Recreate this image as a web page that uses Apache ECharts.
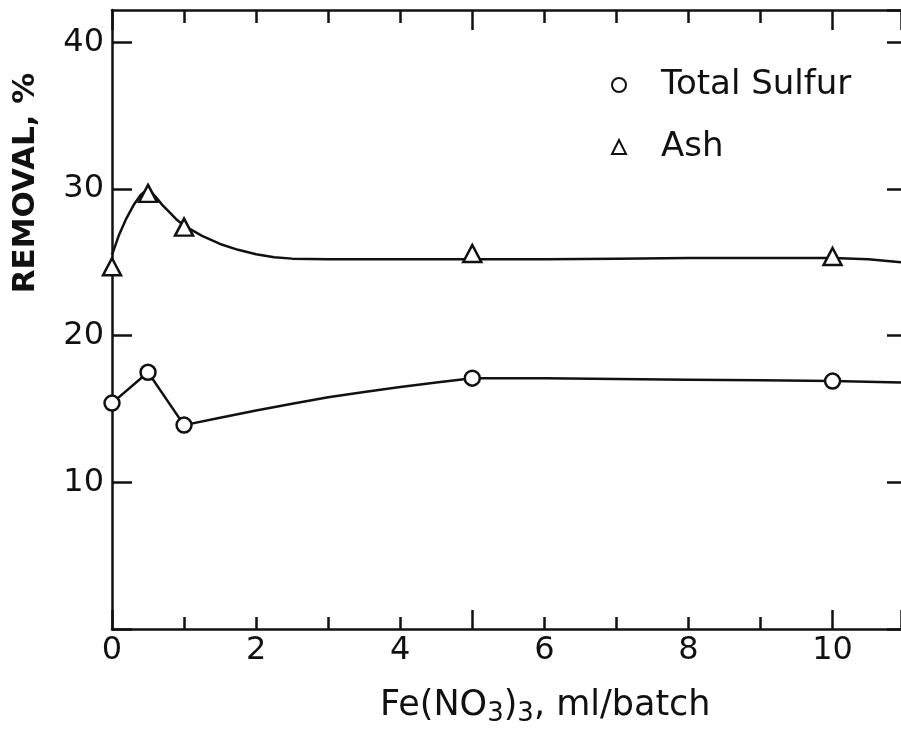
<!DOCTYPE html>
<html>
<head>
<meta charset="utf-8">
<script src="https://cdn.jsdelivr.net/npm/echarts@6/dist/echarts.min.js"></script>
<style>html,body{margin:0;padding:0;background:#fff;}#c{width:901px;height:730px;}</style>
</head>
<body>
<div id="c"></div>
<script>
// Measured points (x = Fe(NO3)3 ml/batch, y = removal %)
var sulfurX = [0, 0.5, 1, 5, 10];
var sulfurY = [15.4, 17.5, 13.9, 17.1, 16.9];
var ashX = [0, 0.5, 1, 5, 10];
var ashY = [24.7, 29.7, 27.4, 25.6, 25.4];
// Hand-drawn fitted curves
var sulfurLineX = [0, 0.5, 1];
var sulfurLineY = [15.4, 17.5, 13.9];
var sulfurCurveX = [1, 1.5, 2, 2.5, 3, 3.5, 4, 4.5, 5, 6, 7, 8, 9, 10, 10.95];
var sulfurCurveY = [13.9, 14.4, 14.9, 15.35, 15.8, 16.15, 16.5, 16.8, 17.1, 17.1, 17.05, 17.0, 16.95, 16.9, 16.8];
var ashCurveX = [0, 0.1, 0.2, 0.3, 0.4, 0.5, 0.6, 0.7, 0.8, 0.9, 1.0, 1.25, 1.5, 1.75, 2.0, 2.25, 2.5, 3, 4, 5, 6, 7, 8, 9, 10, 10.5, 10.95];
var ashCurveY = [25.5, 26.9, 28.0, 28.9, 29.6, 30.0, 29.5, 28.9, 28.4, 27.9, 27.5, 26.8, 26.25, 25.85, 25.55, 25.35, 25.25, 25.2, 25.2, 25.2, 25.2, 25.25, 25.3, 25.3, 25.3, 25.2, 25.0];
var yTicks = [10, 20, 30, 40];
var xTickLabels = [0, 2, 4, 6, 8, 10];

function zip(a, b) { return a.map(function (v, i) { return [v, b[i]]; }); }

var FONT = 'DejaVu Sans';
var INK = '#111';
var chart = echarts.init(document.getElementById('c'));

function xAx(pos, interval, len, showLine, showLabel) {
  return {
    type: 'value', position: pos, min: 0, max: 10.95, interval: interval,
    axisLine: {show: showLine, onZero: false, lineStyle: {color: INK, width: 2.5}},
    axisTick: {show: true, inside: true, length: len, lineStyle: {color: INK, width: 2.5}},
    axisLabel: {show: showLabel, margin: 6, color: INK, fontFamily: FONT, fontSize: 32,
      showMaxLabel: false,
      formatter: function (v) { return xTickLabels.indexOf(v) >= 0 ? String(v) : ''; }},
    splitLine: {show: false}
  };
}

chart.setOption({
  animation: false,
  backgroundColor: '#ffffff',
  grid: {left: 112, width: 792, top: 10, height: 619, containLabel: false},
  xAxis: [
    xAx('bottom', 1, 12, true, true),
    xAx('bottom', 5, 19, false, false),
    xAx('top', 1, 13, true, false),
    xAx('top', 5, 20, false, false)
  ],
  yAxis: [
    {type: 'value', position: 'left', min: 0, max: 42.2, interval: 10,
     axisLine: {show: true, onZero: false, lineStyle: {color: INK, width: 2.5}},
     axisTick: {show: true, inside: true, length: 20, lineStyle: {color: INK, width: 2.5}},
     axisLabel: {margin: 8, color: INK, fontFamily: FONT, fontSize: 32, showMaxLabel: false,
       formatter: function (v) { return yTicks.indexOf(v) >= 0 ? String(v) : ''; }},
     splitLine: {show: false}},
    {type: 'value', position: 'right', min: 0, max: 42.2, interval: 10,
     axisLine: {show: false, onZero: false, lineStyle: {color: INK, width: 2.5}},
     axisTick: {show: true, inside: true, length: 14, lineStyle: {color: INK, width: 2.5}},
     axisLabel: {show: false}, splitLine: {show: false}}
  ],
  legend: {
    orient: 'vertical', left: 606, top: 63, itemGap: 28,
    itemWidth: 14, itemHeight: 14,
    textStyle: {color: INK, fontFamily: FONT, fontSize: 34, padding: [0, 0, 0, 30]},
    data: ['Total Sulfur', 'Ash']
  },
  series: [
    {name: 'ashCurve', type: 'line', data: zip(ashCurveX, ashCurveY), smooth: false,
     symbol: 'none', lineStyle: {color: INK, width: 2.5}, z: 2},
    {name: 'sulfurLine', type: 'line', data: zip(sulfurLineX, sulfurLineY), symbol: 'none',
     lineStyle: {color: INK, width: 2.5}, z: 2},
    {name: 'sulfurCurve', type: 'line', data: zip(sulfurCurveX, sulfurCurveY), smooth: false,
     symbol: 'none', lineStyle: {color: INK, width: 2.5}, z: 2},
    {name: 'Total Sulfur', type: 'scatter', data: zip(sulfurX, sulfurY), symbol: 'circle',
     symbolSize: 15, clip: false, z: 5,
     itemStyle: {color: '#fff', borderColor: INK, borderWidth: 2.5, opacity: 1}},
    {name: 'Ash', type: 'scatter', data: zip(ashX, ashY), symbol: 'triangle',
     symbolSize: [18, 17], clip: false, z: 5,
     itemStyle: {color: '#fff', borderColor: INK, borderWidth: 2.5, opacity: 1}}
  ],
  graphic: [
    {type: 'text', x: 26, y: 183, rotation: Math.PI / 2,
     style: {text: 'REMOVAL, %', fill: INK, font: 'bold 31px ' + FONT, align: 'center', verticalAlign: 'middle'}},
    {type: 'text', x: 380, y: 685,
     style: {text: 'Fe(NO{s|3}){s|3}, ml/batch', fill: INK, font: '35px ' + FONT,
       rich: {s: {fontSize: 26, fontFamily: FONT, fill: INK, padding: [16, 0, 0, 0]}}}}
  ]
});
</script>
</body>
</html>
